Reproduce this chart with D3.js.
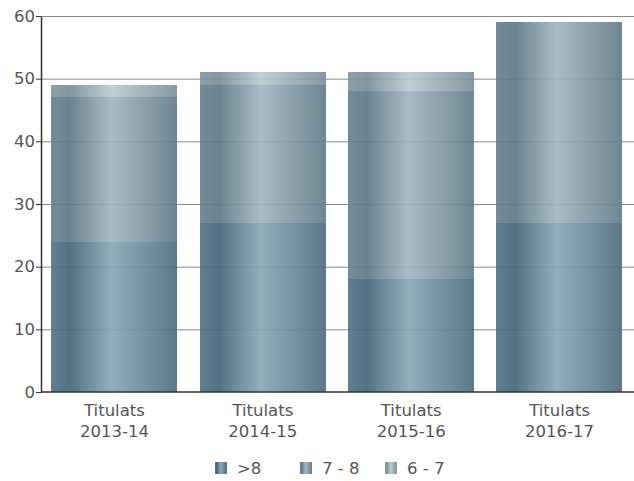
<!DOCTYPE html>
<html>
<head>
<meta charset="utf-8">
<script src="https://cdn.jsdelivr.net/npm/d3@7"></script>
<style>
  body { margin: 0; background: #fff; }
  text { font-family: "DejaVu Sans", sans-serif; fill: #555; }
</style>
</head>
<body>
<div id="chart"></div>
<script>
const categories = ['Titulats 2013-14', 'Titulats 2014-15', 'Titulats 2015-16', 'Titulats 2016-17'];
const seriesNames = ['>8', '7 - 8', '6 - 7'];
const over8 = [24, 27, 18, 27];
const from7to8 = [23, 22, 30, 32];
const from6to7 = [2, 2, 3, 0];
const yTicks = [0, 10, 20, 30, 40, 50, 60];

const W = 634, H = 481;
const margin = {top: 16, right: 1, bottom: 89, left: 41};
const w = W - margin.left - margin.right,
      h = H - margin.top - margin.bottom;

const rows = categories.map((c, i) => ({cat: c, '>8': over8[i], '7 - 8': from7to8[i], '6 - 7': from6to7[i]}));
const stacked = d3.stack().keys(seriesNames)(rows);

const x = d3.scaleBand().domain(categories).range([0, w]).paddingInner(0.15).paddingOuter(0.07);
const y = d3.scaleLinear().domain([0, 60]).range([h, 0]);

// colours across each bar: left edge, dark band, light middle, right edge
const grads = [
  ['#55748a', '#47677a', '#8aa8b8', '#4f6e81'],
  ['#6a8291', '#607a89', '#a2b7c3', '#637c8b'],
  ['#84979f', '#7b8f99', '#b9cbd2', '#7d9099']
];

const svg = d3.select('#chart').append('svg').attr('width', W).attr('height', H);
const defs = svg.append('defs');
grads.forEach((c, i) => {
  const lg = defs.append('linearGradient').attr('id', 'g' + i)
    .attr('x1', '0%').attr('x2', '100%').attr('y1', '0%').attr('y2', '0%');
  [0, 15, 48, 100].forEach((o, j) =>
    lg.append('stop').attr('offset', o + '%').attr('stop-color', c[j]));
});

const g = svg.append('g').attr('transform', `translate(${margin.left},${margin.top})`);

// grid
g.selectAll('.grid').data(yTicks.filter(d => d > 0)).enter().append('line')
  .attr('x1', 0).attr('x2', w + margin.right)
  .attr('y1', d => y(d) + 0.5).attr('y2', d => y(d) + 0.5)
  .attr('stroke', '#8a8a8a').attr('stroke-width', 1);

// bars
g.selectAll('.layer').data(stacked).enter().append('g')
  .attr('fill', (d, i) => `url(#g${i})`)
  .attr('fill-opacity', 0.93)
  .selectAll('rect').data(d => d.filter(p => p[1] > p[0])).enter().append('rect')
  .attr('x', d => Math.round(x(d.data.cat)))
  .attr('y', d => Math.round(y(d[1])))
  .attr('width', Math.round(x.bandwidth()))
  .attr('height', d => Math.round(y(d[0])) - Math.round(y(d[1])))
  .attr('shape-rendering', 'crispEdges');

// y axis
const yAxis = g.append('g').call(d3.axisLeft(y).tickValues(yTicks).tickSize(5).tickSizeOuter(0));
yAxis.select('.domain').attr('stroke', '#333').attr('stroke-width', 1.5);
yAxis.selectAll('.tick line').attr('stroke', '#333');
yAxis.selectAll('.tick text').attr('font-size', 16.5).attr('fill', '#555').attr('x', -6)
  .style('font-family', '"DejaVu Sans", sans-serif');

// x axis baseline
g.append('line').attr('x1', 0).attr('x2', w + margin.right).attr('y1', h).attr('y2', h)
  .attr('stroke', '#333').attr('stroke-width', 1.5);

// x labels
const xl = g.selectAll('.xl').data(categories).enter().append('text')
  .attr('text-anchor', 'middle')
  .attr('font-size', 16.5)
  .attr('transform', d => `translate(${x(d) + x.bandwidth() / 2},${h})`);
xl.append('tspan').attr('x', 0).attr('y', 24).text(d => d.split(' ')[0]);
xl.append('tspan').attr('x', 0).attr('y', 45).text(d => d.split(' ')[1]);

// legend
const legX = [215, 300, 385];
const leg = svg.selectAll('.leg').data(seriesNames).enter().append('g')
  .attr('transform', (d, i) => `translate(${legX[i]},462)`);
leg.append('rect').attr('width', 12).attr('height', 12)
  .attr('fill', (d, i) => `url(#g${i})`);
leg.append('text').attr('x', 22).attr('y', 12).attr('font-size', 16.5).text(d => d);
</script>
</body>
</html>
